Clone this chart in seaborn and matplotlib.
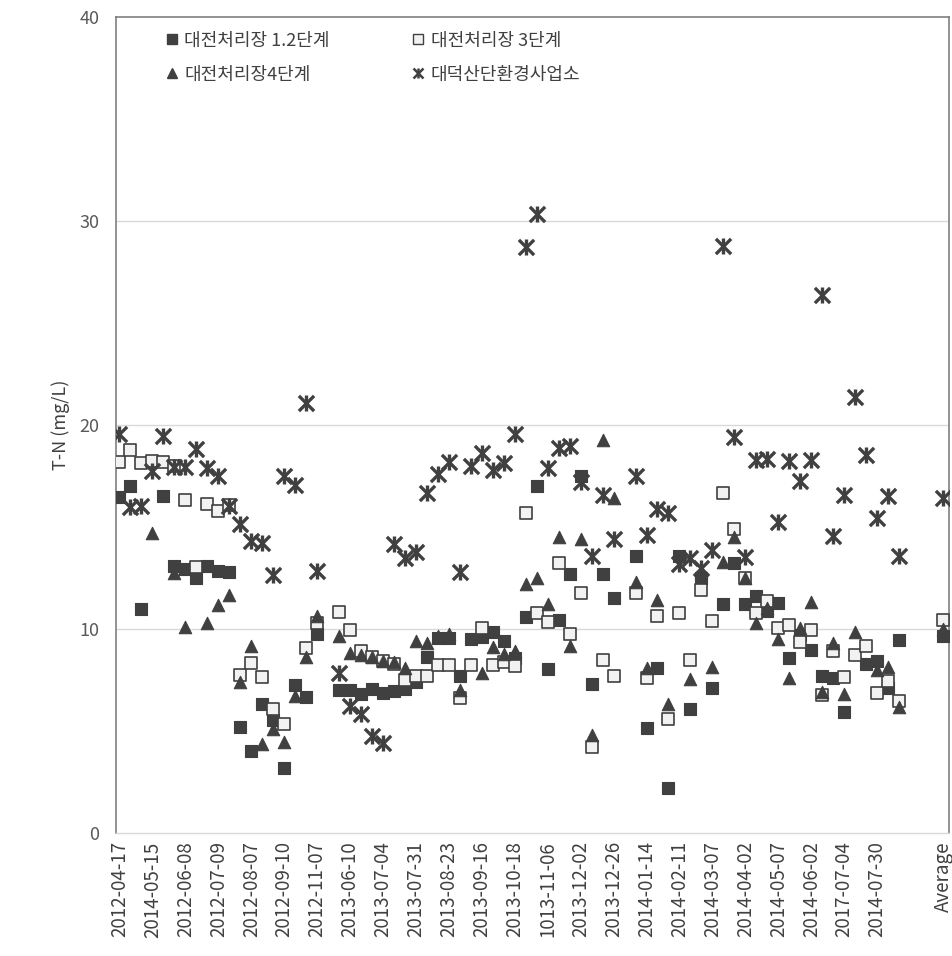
import numpy as np
import pandas as pd
import matplotlib
matplotlib.use('Agg')
import matplotlib.pyplot as plt
import seaborn as sns
from matplotlib.legend_handler import HandlerTuple

# visible category labels (every 3rd sampling date), then a blank and the average
date_labels = ['2012-04-17', '2014-05-15', '2012-06-08', '2012-07-09', '2012-08-07',
               '2012-09-10', '2012-11-07', '2013-06-10', '2013-07-04', '2013-07-31',
               '2013-08-23', '2013-09-16', '2013-10-18', '1013-11-06', '2013-12-02',
               '2013-12-26', '2014-01-14', '2014-02-11', '2014-03-07', '2014-04-02',
               '2014-05-07', '2014-06-02', '2017-07-04', '2014-07-30']
label_step = 3
n_blank = 3

nan = np.nan
stage12 = [16.45, 17.02, 10.98, nan, 16.53, 13.1, 12.94, 12.5, 13.1, 12.83,
           12.78, 5.21, 4.0, 6.32, 5.54, 3.19, 7.27, 6.68, 9.75, nan,
           7.0, 7.0, 6.8, 7.05, 6.85, 6.95, 7.05, 7.4, 8.64, 9.55,
           9.55, 7.7, 9.5, 9.6, 9.85, 9.4, 8.6, 10.6, 17.0, 8.05,
           10.44, 12.69, 17.48, 7.3, 12.69, 11.5, nan, 13.59, 5.17, 8.1,
           2.22, 13.59, 6.1, 12.5, 7.1, 11.24, 13.23, 11.24, 11.6, 10.9,
           11.25, 8.6, 9.7, 8.95, 7.7, 7.58, 5.93, nan, 8.28, 8.45,
           7.1, 9.48]
stage3 = [18.2, 18.79, 18.12, 18.22, 18.2, 18.0, 16.34, 13.05, 16.13, 15.8,
          16.09, 7.76, 8.31, 7.63, 6.08, 5.34, nan, 9.07, 10.28, nan,
          10.84, 9.96, 8.9, 8.64, 8.44, 8.3, 7.5, 7.7, 7.7, 8.24,
          8.24, 6.6, 8.24, 10.05, 8.25, 8.4, 8.2, 15.69, 10.8, 10.36,
          13.23, 9.76, 11.76, 4.21, 8.5, 7.7, nan, 11.76, 7.6, 10.64,
          5.57, 10.76, 8.5, 11.9, 10.4, 16.69, 14.89, 12.5, 10.8, 11.35,
          10.04, 10.2, 9.34, 9.95, 6.75, 8.94, 7.63, 8.7, 9.15, 6.87,
          7.47, 6.49]
stage4 = [nan, nan, nan, 14.69, nan, 12.73, 10.08, nan, 10.28, 11.19,
          11.68, 7.38, 9.18, 4.36, 5.1, 4.44, 6.73, 8.64, 10.65, nan,
          9.64, 8.8, 8.7, 8.64, 8.44, 8.36, 8.1, 9.4, 9.3, 9.64,
          9.76, 7.0, nan, 7.82, 9.1, 8.77, 8.94, 12.2, 12.5, 11.24,
          14.49, 9.16, 14.43, 4.81, 19.28, 16.43, nan, 12.3, 8.1, 11.44,
          6.3, nan, 7.56, 12.8, 8.16, 13.3, 14.49, 12.5, 10.3, 11.05,
          9.5, 7.6, 10.05, 11.33, 6.9, 9.3, 6.8, 9.85, nan, 8.0,
          8.15, 6.16]
daedeok = [19.56, 15.96, 16.04, 17.76, 19.48, 17.96, 17.96, 18.8, 17.9, 17.5,
           16.04, 15.15, 14.3, 14.2, 12.66, 17.5, 17.07, 21.1, 12.86, nan,
           7.84, 6.2, 5.85, 4.77, 4.41, 14.19, 13.49, 13.75, 16.69, 17.58,
           18.18, 12.79, 17.98, 18.62, 17.78, 18.14, 19.54, 28.72, 30.36, 17.88,
           18.88, 18.98, 17.19, 13.59, 16.59, 14.43, nan, 17.49, 14.63, 15.89,
           15.69, 13.19, 13.49, 12.99, 13.89, 28.76, 19.42, 13.55, 18.28, 18.34,
           15.23, 18.22, 17.23, 18.28, 26.37, 14.55, 16.55, 21.38, 18.54, 15.43,
           16.53, 13.59]
average = {'대전처리장 1.2단계': 9.64, '대전처리장 3단계': 10.44,
           '대전처리장4단계': 10.0, '대덕산단환경사업소': 16.43}

series = {'대전처리장 1.2단계': stage12, '대전처리장 3단계': stage3,
          '대전처리장4단계': stage4, '대덕산단환경사업소': daedeok}

n = len(stage12)
avg_pos = n + n_blank
rows = []
for name, vals in series.items():
    for i, v in enumerate(vals):
        rows.append((name, i, v))
    rows.append((name, avg_pos, average[name]))
df = pd.DataFrame(rows, columns=['site', 'pos', 'tn']).dropna()

sns.set_theme(style='white')
plt.rcParams['font.family'] = ['Noto Sans CJK KR', 'DejaVu Sans']

dark = '#404040'
fig = plt.figure(figsize=(9.53, 9.56), dpi=100)
ax = fig.add_axes([0.1217, 0.1287, 0.8741, 0.8535])

for y in (10, 20, 30):
    ax.axhline(y, color='#d9d9d9', lw=1, zorder=0)

ms = 80
names = list(series.keys())
d = df[df.site == names[0]]
sns.scatterplot(data=d, x='pos', y='tn', marker='s', s=ms, color=dark,
                edgecolor=dark, linewidth=0.8, ax=ax, zorder=3)
d = df[df.site == names[1]]
sns.scatterplot(data=d, x='pos', y='tn', marker='s', s=ms, color='#f2f2f2',
                edgecolor=dark, linewidth=1.2, ax=ax, zorder=3)
d = df[df.site == names[2]]
sns.scatterplot(data=d, x='pos', y='tn', marker='^', s=ms, color=dark,
                edgecolor=dark, linewidth=0.8, ax=ax, zorder=3)
d = df[df.site == names[3]]
sns.scatterplot(data=d, x='pos', y='tn', marker='x', s=120, color=dark,
                linewidth=2.4, ax=ax, zorder=4)
sns.scatterplot(data=d, x='pos', y='tn', marker='|', s=120, color=dark,
                linewidth=2.4, ax=ax, zorder=4)

ax.set_xlim(-0.32, avg_pos + 0.55)
ax.set_ylim(0, 40)
ax.set_yticks([0, 10, 20, 30, 40])
ticks = np.arange(0, avg_pos + 1, label_step)
ax.set_xticks(ticks)
ax.set_xticklabels(date_labels + [''] * (len(ticks) - len(date_labels) - 1) + ['Average'],
                   rotation=90)
ax.tick_params(axis='x', length=0, labelsize=13.5, colors='#404040', pad=6)
ax.tick_params(axis='y', length=0, labelsize=13, colors='#595959', pad=12)
ax.set_xlabel('')
ax.set_ylabel('T-N (mg/L)', fontsize=13, color='#404040', labelpad=7)

for side in ('left', 'top', 'right'):
    ax.spines[side].set_color('#7f7f7f')
    ax.spines[side].set_linewidth(1.2)
ax.spines['bottom'].set_color('#d9d9d9')
ax.spines['bottom'].set_linewidth(1)

h1 = plt.Line2D([], [], ls='', marker='s', ms=7, color=dark)
h2 = plt.Line2D([], [], ls='', marker='s', ms=7, mfc='#f2f2f2', mec=dark, mew=1)
h3 = plt.Line2D([], [], ls='', marker='^', ms=7, color=dark)
h4a = plt.Line2D([], [], ls='', marker='x', ms=7, mew=1.8, color=dark)
h4b = plt.Line2D([], [], ls='', marker='|', ms=7, mew=1.8, color=dark)
ax.legend([h1, h3, h2, (h4a, h4b)], [names[0], names[2], names[1], names[3]],
          handler_map={tuple: HandlerTuple(ndivide=1)},
          loc='upper left', bbox_to_anchor=(0.043, 1.0), ncol=2, frameon=False,
          fontsize=13, handlelength=0.6, handletextpad=0.4, columnspacing=4.6,
          labelspacing=0.9, borderaxespad=0.4, labelcolor='#404040')

fig.savefig('out.png', dpi=100)
